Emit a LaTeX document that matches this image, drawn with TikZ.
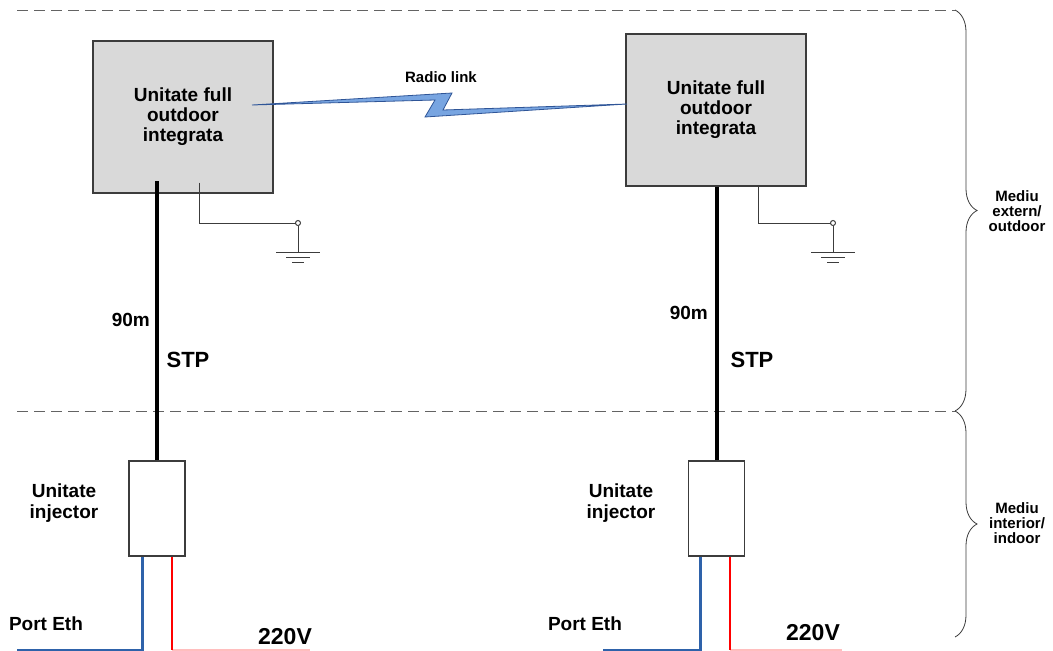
\documentclass[tikz,border=0pt]{standalone}
\usepackage{fontspec}
\setmainfont{Liberation Sans}
\usepackage{tikz}
\usetikzlibrary{calc,decorations.pathreplacing}
\definecolor{boxgrey}{RGB}{217,217,217}
\definecolor{edgegrey}{RGB}{60,60,60}
\definecolor{linkblue}{RGB}{120,165,225}
\definecolor{linkedge}{RGB}{47,85,151}
\definecolor{ethblue}{RGB}{46,98,170}
\definecolor{mainspink}{RGB}{255,190,190}
\tikzset{
  unitbox/.style  = {shape=rectangle, draw=edgegrey, line width=1.1pt,
                     fill=boxgrey, align=center, inner sep=0pt,
                     minimum width=180pt, minimum height=152pt,
                     font=\bfseries\fontsize{19}{20}\selectfont},
  injbox/.style   = {shape=rectangle, draw=edgegrey, line width=1.1pt,
                     fill=white, inner sep=0pt,
                     minimum width=56pt, minimum height=95pt},
  lbl/.style      = {align=center, inner sep=0pt,
                     font=\bfseries\fontsize{19}{21}\selectfont},
  biglbl/.style   = {lbl, font=\bfseries\fontsize{23}{24}\selectfont},
  zonelbl/.style  = {lbl, font=\bfseries\fontsize{15}{15}\selectfont},
  stp/.style      = {line width=4pt, black},
  gndwire/.style  = {line width=1pt, edgegrey},
  ethwire/.style  = {line width=3pt, ethblue},
  pwrwire/.style  = {line width=2pt, red},
  mainsline/.style= {line width=1.2pt, mainspink},
  border/.style   = {line width=1pt, edgegrey!80, dash pattern=on 11pt off 6pt},
  zonebrace/.style= {line width=0.8pt, edgegrey,
                     decorate, decoration={brace, amplitude=22pt}},
  radio/.style    = {fill=linkblue, draw=linkedge, line width=0.8pt,
                     line join=miter},
}

\begin{document}
\begin{tikzpicture}[x=1pt, y=-1pt]
  \useasboundingbox (0,0) rectangle (1053,651);

  \coordinate (top0) at (17,10);
  \coordinate (top1) at (955,10);
  \coordinate (mid0) at (17,411);
  \coordinate (mid1) at (955,411);
  \coordinate (bot1) at (955,637);
  \draw[border] (top0) -- (top1);
  \draw[border] (mid0) -- (mid1);
  \draw[zonebrace] (top1) -- (mid1);
  \draw[zonebrace] (mid1) -- (bot1);
  \node[zonelbl] (zone1) at (1017,211) {Mediu\\extern/\\outdoor};
  \node[zonelbl] (zone2) at (1017,523) {Mediu\\interior/\\indoor};

  \node[unitbox] (unit1) at (183,117) {Unitate full\\outdoor\\integrata};
  \node[unitbox] (unit2) at (716,110) {Unitate full\\outdoor\\integrata};

  \coordinate (rl1) at (252,105);
  \coordinate (rl2) at (627,104);
  \draw[radio] (rl1) -- (452,93) -- (443,110) -- (rl2) -- (425,117) -- (435,100) -- cycle;
  \node[lbl, font=\bfseries\fontsize{15}{16}\selectfont] (radiolbl) at (441,77) {Radio link};

  \node[injbox] (inj1) at (157,508.5) {};
  \node[injbox] (inj2) at (716.5,508.5) {};
  \node[lbl] (injlbl1) at (64,503) {Unitate\\injector};
  \node[lbl] (injlbl2) at (621,503) {Unitate\\injector};

  \draw[stp] (inj1.north) -- ($(inj1.north |- unit1.south)+(0,-13)$);
  \draw[stp] (inj2.north) -- (inj2.north |- unit2.south);
  \node[lbl, anchor=east] (len1) at (150,320) {90m};
  \node[lbl, anchor=east] (len2) at (708,313) {90m};
  \node[lbl, font=\bfseries\fontsize{22}{24}\selectfont] (stp1) at (188,360) {STP};
  \node[lbl, font=\bfseries\fontsize{22}{24}\selectfont] (stp2) at (752,360) {STP};

  \coordinate (gnd1) at (298,223);
  \coordinate (gnd2) at (833,223);
  \draw[gndwire] ($(unit1.south)+(16,-11)$) |- ([xshift=-2.5pt]gnd1);
  \draw[gndwire] ($(unit2.south)+(42,0)$) |- ([xshift=-2.5pt]gnd2);
  \draw[gndwire] (gnd1) circle (2.5);
  \draw[gndwire] (gnd2) circle (2.5);
  \draw[gndwire] ([yshift=-2.5pt]gnd1) -- ++(0,26.5);
  \draw[gndwire] ([yshift=-2.5pt]gnd2) -- ++(0,26.5);
  \draw[gndwire] ($(gnd1)+(-22,29)$) -- ++(44,0);
  \draw[gndwire] ($(gnd1)+(-12,34)$) -- ++(24,0);
  \draw[gndwire] ($(gnd1)+(-6,39)$) -- ++(12,0);
  \draw[gndwire] ($(gnd2)+(-22,29)$) -- ++(44,0);
  \draw[gndwire] ($(gnd2)+(-12,34)$) -- ++(24,0);
  \draw[gndwire] ($(gnd2)+(-6,39)$) -- ++(12,0);

  \coordinate (eth1) at (17,650);
  \coordinate (eth2) at (603,650);
  \coordinate (pwr1) at (310,650);
  \coordinate (pwr2) at (842,650);
  \coordinate (red1) at ([xshift=-14pt]inj1.south east);
  \coordinate (red2) at ([xshift=-15pt]inj2.south east);
  \draw[ethwire] ([xshift=14pt]inj1.south west) |- (eth1);
  \draw[ethwire] ([xshift=13pt]inj2.south west) |- (eth2);
  \draw[mainsline] (red1 |- pwr1) -- (pwr1);
  \draw[mainsline] (red2 |- pwr2) -- (pwr2);
  \draw[pwrwire] (red1) -- (red1 |- pwr1);
  \draw[pwrwire] (red2) -- (red2 |- pwr2);
  \node[lbl] (port1) at (46,624) {Port Eth};
  \node[lbl] (port2) at (585,624) {Port Eth};
  \node[biglbl] (volt1) at (285,637) {220V};
  \node[biglbl] (volt2) at (813,633) {220V};
\end{tikzpicture}
\end{document}
